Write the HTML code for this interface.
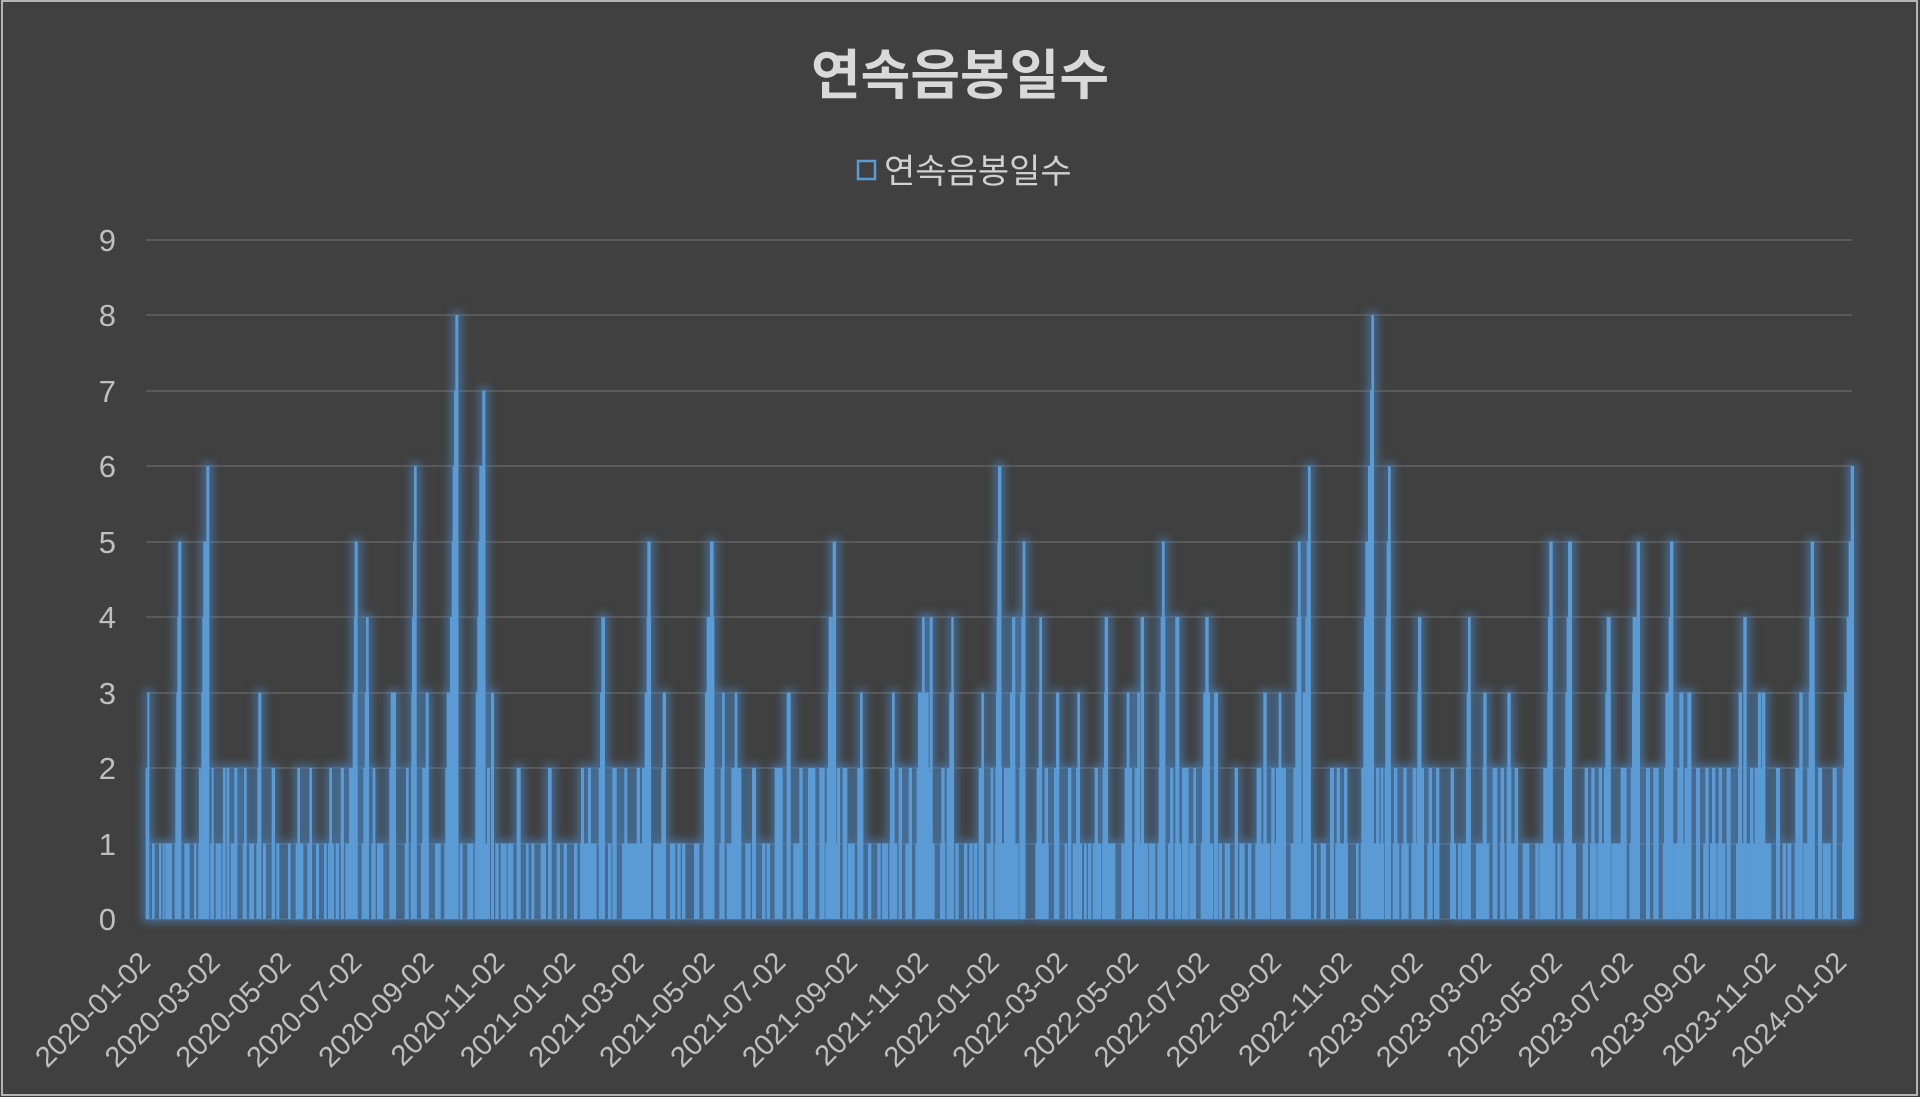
<!DOCTYPE html>
<html>
<head>
<meta charset="utf-8">
<style>
html,body{margin:0;padding:0;background:#404040;}
svg{display:block;}
</style>
</head>
<body>
<svg width="1920" height="1097" viewBox="0 0 1920 1097" xmlns="http://www.w3.org/2000/svg" xmlns:xlink="http://www.w3.org/1999/xlink">
<defs>
<filter id="glow" filterUnits="userSpaceOnUse" x="100" y="200" width="1800" height="760">
  <feMorphology in="SourceAlpha" operator="dilate" radius="3.5" result="d"/>
  <feGaussianBlur in="d" stdDeviation="4.5" result="b"/>
  <feFlood flood-color="#4a88c6" flood-opacity="0.62" result="c"/>
  <feComposite in="c" in2="b" operator="in"/>
</filter>
<g id="bars" fill="#5b9bd5">
<g transform="translate(144 919) scale(0.333333 -75.5)">
<rect x="5" width="5" height="2"/><rect x="10" width="6" height="3"/><rect x="24" width="8" height="1"/><rect x="45" width="7" height="1"/><rect x="56" width="6" height="1"/><rect x="64" width="20" height="1"/>
<rect x="92" width="5" height="1"/><rect x="94" width="6" height="2"/><rect x="97" width="6" height="3"/><rect x="100" width="6" height="4"/><rect x="103" width="9" height="5"/>
<rect x="121" width="16" height="1"/><rect x="150" width="7" height="1"/>
<rect x="163" width="9" height="1"/><rect x="165" width="7" height="2"/><rect x="172" width="5" height="3"/><rect x="175" width="5" height="4"/><rect x="178" width="12" height="5"/><rect x="187" width="9" height="6"/>
<rect x="199" width="11" height="1"/><rect x="203" width="6" height="2"/><rect x="215" width="17" height="1"/><rect x="235" width="10" height="1"/><rect x="237" width="8" height="2"/><rect x="248" width="8" height="2"/>
<rect x="260" width="20" height="1"/><rect x="271" width="9" height="2"/><rect x="296" width="12" height="1"/><rect x="300" width="8" height="2"/><rect x="316" width="14" height="1"/>
<rect x="337" width="15" height="1"/><rect x="340" width="6" height="2"/><rect x="343" width="9" height="3"/><rect x="357" width="9" height="1"/><rect x="383" width="10" height="2"/><rect x="397" width="9" height="1"/>
<rect x="432" width="8" height="1"/><rect x="455" width="23" height="1"/><rect x="460" width="8" height="2"/><rect x="490" width="14" height="1"/><rect x="496" width="8" height="2"/><rect x="516" width="9" height="1"/>
<rect x="540" width="8" height="1"/><rect x="552" width="18" height="1"/><rect x="556" width="8" height="2"/><rect x="575" width="10" height="1"/><rect x="590" width="10" height="2"/>
<rect x="604" width="37" height="1"/><rect x="615" width="13" height="2"/><rect x="626" width="6" height="3"/><rect x="630" width="6" height="4"/><rect x="632" width="9" height="5"/>
<rect x="653" width="22" height="1"/><rect x="658" width="17" height="2"/><rect x="662" width="13" height="3"/><rect x="666" width="8" height="4"/>
<rect x="682" width="13" height="1"/><rect x="686" width="8" height="2"/><rect x="699" width="19" height="1"/><rect x="736" width="14" height="2"/><rect x="740" width="10" height="3"/>
</g>
<g transform="translate(390 919) scale(0.333333 -75.5)">
<rect x="0" width="18" height="1"/><rect x="0" width="10" height="2"/><rect x="10" width="8" height="3"/>
<rect x="44" width="12" height="1"/><rect x="48" width="8" height="2"/>
<rect x="62" width="18" height="1"/><rect x="63" width="17" height="2"/><rect x="64" width="14" height="3"/><rect x="66" width="10" height="4"/><rect x="69" width="7" height="5"/><rect x="72" width="8" height="6"/>
<rect x="93" width="23" height="1"/><rect x="97" width="19" height="2"/><rect x="107" width="9" height="3"/><rect x="135" width="17" height="1"/>
<rect x="163" width="42" height="1"/><rect x="166" width="39" height="2"/><rect x="170" width="35" height="3"/><rect x="180" width="25" height="4"/><rect x="185" width="20" height="5"/><rect x="188" width="17" height="6"/><rect x="192" width="13" height="7"/><rect x="196" width="9" height="8"/>
<rect x="209" width="9" height="1"/><rect x="232" width="18" height="1"/>
<rect x="254" width="46" height="1"/><rect x="256" width="30" height="2"/><rect x="257" width="29" height="3"/><rect x="262" width="24" height="4"/><rect x="265" width="21" height="5"/><rect x="268" width="18" height="6"/><rect x="277" width="9" height="7"/>
<rect x="291" width="9" height="2"/><rect x="303" width="9" height="3"/>
<rect x="316" width="10" height="1"/><rect x="332" width="18" height="1"/><rect x="353" width="17" height="1"/><rect x="380" width="12" height="2"/>
<rect x="408" width="8" height="1"/><rect x="424" width="9" height="1"/><rect x="452" width="16" height="1"/><rect x="474" width="11" height="2"/>
<rect x="500" width="10" height="1"/><rect x="521" width="10" height="1"/><rect x="552" width="10" height="1"/>
<rect x="570" width="50" height="1"/><rect x="573" width="9" height="2"/><rect x="594" width="9" height="2"/>
<rect x="626" width="19" height="2"/><rect x="630" width="15" height="3"/><rect x="634" width="11" height="4"/>
<rect x="654" width="10" height="1"/><rect x="667" width="13" height="2"/><rect x="696" width="44" height="1"/><rect x="703" width="9" height="2"/><rect x="740" width="10" height="2"/>
</g>
<g transform="translate(636 919) scale(0.333333 -75.5)">
<rect x="0" width="6" height="1"/>
<rect x="12" width="33" height="1"/><rect x="18" width="27" height="2"/><rect x="26" width="19" height="3"/><rect x="32" width="13" height="4"/><rect x="34" width="10" height="5"/>
<rect x="52" width="38" height="1"/><rect x="76" width="14" height="2"/><rect x="80" width="10" height="3"/>
<rect x="102" width="16" height="1"/><rect x="124" width="10" height="1"/><rect x="138" width="10" height="1"/><rect x="174" width="16" height="1"/>
<rect x="202" width="33" height="1"/><rect x="204" width="31" height="2"/><rect x="207" width="28" height="3"/><rect x="212" width="23" height="4"/><rect x="222" width="11" height="5"/>
<rect x="250" width="14" height="1"/><rect x="254" width="10" height="2"/><rect x="258" width="8" height="3"/>
<rect x="272" width="44" height="1"/><rect x="286" width="30" height="2"/><rect x="296" width="8" height="3"/>
<rect x="328" width="16" height="1"/><rect x="348" width="12" height="2"/><rect x="378" width="10" height="1"/><rect x="392" width="10" height="1"/>
<rect x="416" width="24" height="2"/><rect x="452" width="12" height="3"/><rect x="472" width="28" height="1"/><rect x="490" width="10" height="2"/>
<rect x="516" width="22" height="2"/><rect x="550" width="16" height="2"/>
<rect x="568" width="44" height="1"/><rect x="572" width="18" height="2"/><rect x="576" width="14" height="3"/><rect x="578" width="12" height="4"/><rect x="590" width="10" height="5"/><rect x="602" width="10" height="2"/>
<rect x="620" width="14" height="2"/><rect x="636" width="20" height="1"/><rect x="664" width="18" height="2"/><rect x="672" width="8" height="3"/>
<rect x="696" width="10" height="1"/><rect x="724" width="10" height="1"/><rect x="738" width="12" height="1"/>
</g>
<g transform="translate(882 919) scale(0.333333 -75.5)">
<rect x="0" width="18" height="1"/><rect x="22" width="24" height="1"/><rect x="24" width="8" height="2"/><rect x="30" width="8" height="3"/>
<rect x="50" width="10" height="2"/><rect x="70" width="20" height="1"/><rect x="80" width="10" height="2"/>
<rect x="100" width="58" height="1"/><rect x="104" width="46" height="2"/><rect x="108" width="32" height="3"/><rect x="120" width="8" height="4"/><rect x="143" width="9" height="4"/>
<rect x="174" width="16" height="1"/><rect x="178" width="10" height="2"/>
<rect x="194" width="22" height="2"/><rect x="202" width="14" height="3"/><rect x="208" width="7" height="4"/>
<rect x="220" width="10" height="1"/><rect x="246" width="10" height="1"/><rect x="262" width="10" height="1"/><rect x="275" width="11" height="1"/>
<rect x="290" width="16" height="2"/><rect x="298" width="8" height="3"/><rect x="314" width="20" height="1"/><rect x="326" width="8" height="2"/>
<rect x="338" width="72" height="1"/><rect x="340" width="20" height="2"/><rect x="342" width="16" height="3"/><rect x="344" width="14" height="4"/><rect x="346" width="10" height="5"/><rect x="348" width="10" height="6"/>
<rect x="366" width="34" height="2"/><rect x="384" width="8" height="3"/><rect x="390" width="10" height="4"/>
<rect x="412" width="18" height="2"/><rect x="414" width="16" height="3"/><rect x="418" width="12" height="4"/><rect x="422" width="8" height="5"/>
<rect x="460" width="40" height="1"/><rect x="464" width="16" height="2"/><rect x="470" width="10" height="3"/><rect x="472" width="8" height="4"/><rect x="488" width="10" height="2"/>
<rect x="516" width="14" height="2"/><rect x="522" width="10" height="3"/><rect x="548" width="8" height="1"/><rect x="558" width="10" height="2"/>
<rect x="572" width="28" height="1"/><rect x="582" width="12" height="2"/><rect x="586" width="8" height="3"/>
<rect x="606" width="8" height="1"/><rect x="618" width="10" height="1"/><rect x="632" width="26" height="1"/><rect x="638" width="10" height="2"/>
<rect x="660" width="40" height="1"/><rect x="662" width="16" height="2"/><rect x="666" width="10" height="3"/><rect x="668" width="10" height="4"/>
<rect x="718" width="10" height="1"/><rect x="728" width="22" height="2"/><rect x="734" width="8" height="3"/>
</g>
<g transform="translate(1128 919) scale(0.333333 -75.5)">
<rect x="0" width="10" height="1"/><rect x="0" width="4" height="3"/>
<rect x="18" width="42" height="1"/><rect x="20" width="10" height="2"/><rect x="28" width="8" height="3"/><rect x="38" width="10" height="4"/>
<rect x="62" width="20" height="1"/>
<rect x="88" width="24" height="1"/><rect x="92" width="20" height="2"/><rect x="94" width="18" height="3"/><rect x="98" width="14" height="4"/><rect x="102" width="8" height="5"/>
<rect x="120" width="16" height="1"/><rect x="126" width="10" height="2"/><rect x="140" width="20" height="1"/><rect x="142" width="12" height="4"/>
<rect x="162" width="20" height="2"/><rect x="184" width="20" height="1"/><rect x="196" width="8" height="2"/>
<rect x="218" width="38" height="1"/><rect x="222" width="24" height="2"/><rect x="226" width="20" height="3"/><rect x="232" width="10" height="4"/>
<rect x="258" width="12" height="3"/><rect x="272" width="10" height="1"/><rect x="290" width="16" height="1"/><rect x="320" width="10" height="2"/><rect x="334" width="16" height="1"/><rect x="360" width="10" height="1"/>
<rect x="382" width="44" height="1"/><rect x="386" width="14" height="2"/><rect x="406" width="10" height="3"/>
<rect x="428" width="46" height="1"/><rect x="430" width="10" height="2"/><rect x="444" width="30" height="2"/><rect x="452" width="8" height="3"/>
<rect x="488" width="60" height="1"/><rect x="496" width="24" height="2"/><rect x="502" width="18" height="3"/><rect x="506" width="14" height="4"/><rect x="510" width="8" height="5"/>
<rect x="524" width="24" height="3"/><rect x="532" width="16" height="4"/><rect x="536" width="12" height="5"/><rect x="540" width="8" height="6"/>
<rect x="558" width="8" height="1"/><rect x="578" width="16" height="1"/><rect x="606" width="12" height="2"/>
<rect x="622" width="38" height="1"/><rect x="626" width="10" height="2"/><rect x="648" width="10" height="2"/><rect x="684" width="8" height="1"/>
<rect x="698" width="52" height="1"/><rect x="700" width="38" height="2"/><rect x="706" width="32" height="3"/><rect x="708" width="30" height="4"/><rect x="712" width="26" height="5"/><rect x="720" width="18" height="6"/><rect x="726" width="12" height="7"/><rect x="730" width="8" height="8"/><rect x="744" width="6" height="2"/>
</g>
<g transform="translate(1374 919) scale(0.333333 -75.5)">
<rect x="0" width="30" height="1"/><rect x="8" width="8" height="2"/><rect x="20" width="8" height="2"/>
<rect x="32" width="18" height="2"/><rect x="34" width="16" height="3"/><rect x="35" width="15" height="4"/><rect x="38" width="12" height="5"/><rect x="42" width="8" height="6"/>
<rect x="56" width="20" height="1"/><rect x="60" width="10" height="2"/><rect x="82" width="22" height="1"/><rect x="88" width="10" height="2"/>
<rect x="112" width="38" height="1"/><rect x="116" width="10" height="2"/><rect x="128" width="22" height="2"/><rect x="130" width="12" height="3"/><rect x="132" width="10" height="4"/>
<rect x="160" width="16" height="1"/><rect x="164" width="10" height="2"/><rect x="180" width="16" height="1"/><rect x="186" width="10" height="2"/>
<rect x="228" width="18" height="1"/><rect x="230" width="10" height="2"/><rect x="252" width="10" height="1"/>
<rect x="264" width="26" height="1"/><rect x="276" width="14" height="2"/><rect x="278" width="12" height="3"/><rect x="282" width="8" height="4"/>
<rect x="306" width="40" height="1"/><rect x="326" width="12" height="2"/><rect x="328" width="10" height="3"/>
<rect x="356" width="14" height="2"/><rect x="378" width="14" height="1"/><rect x="380" width="10" height="2"/>
<rect x="398" width="34" height="1"/><rect x="398" width="14" height="2"/><rect x="400" width="10" height="3"/><rect x="422" width="10" height="2"/>
<rect x="446" width="20" height="1"/><rect x="484" width="10" height="1"/>
<rect x="496" width="48" height="1"/><rect x="508" width="12" height="2"/><rect x="520" width="16" height="3"/><rect x="522" width="14" height="4"/><rect x="526" width="10" height="5"/>
<rect x="550" width="10" height="1"/>
<rect x="568" width="38" height="1"/><rect x="570" width="24" height="2"/><rect x="574" width="20" height="3"/><rect x="578" width="16" height="4"/><rect x="582" width="12" height="5"/>
<rect x="626" width="14" height="1"/><rect x="632" width="10" height="2"/><rect x="648" width="20" height="1"/><rect x="652" width="10" height="2"/>
<rect x="670" width="20" height="1"/><rect x="674" width="10" height="2"/>
<rect x="690" width="20" height="2"/><rect x="694" width="16" height="3"/><rect x="698" width="12" height="4"/>
<rect x="712" width="28" height="1"/><rect x="740" width="10" height="2"/>
</g>
<g transform="translate(1620 919) scale(0.333333 -75.5)">
<rect x="0" width="6" height="1"/><rect x="8" width="12" height="2"/>
<rect x="28" width="32" height="1"/><rect x="32" width="28" height="2"/><rect x="36" width="24" height="3"/><rect x="38" width="12" height="4"/><rect x="50" width="10" height="5"/>
<rect x="78" width="12" height="2"/><rect x="100" width="16" height="2"/>
<rect x="128" width="20" height="1"/><rect x="132" width="16" height="2"/><rect x="136" width="12" height="3"/><rect x="146" width="4" height="4"/><rect x="150" width="10" height="5"/>
<rect x="160" width="54" height="1"/><rect x="172" width="18" height="2"/><rect x="178" width="12" height="3"/><rect x="194" width="20" height="2"/><rect x="202" width="12" height="3"/>
<rect x="228" width="12" height="2"/><rect x="250" width="14" height="1"/><rect x="256" width="10" height="2"/>
<rect x="270" width="20" height="1"/><rect x="276" width="10" height="2"/><rect x="292" width="24" height="1"/><rect x="296" width="10" height="2"/><rect x="320" width="12" height="2"/>
<rect x="348" width="32" height="1"/><rect x="354" width="12" height="2"/><rect x="356" width="10" height="3"/><rect x="370" width="10" height="4"/>
<rect x="380" width="74" height="1"/><rect x="390" width="10" height="2"/><rect x="404" width="30" height="2"/><rect x="414" width="10" height="3"/><rect x="426" width="10" height="3"/>
<rect x="468" width="12" height="2"/><rect x="488" width="10" height="1"/><rect x="502" width="12" height="1"/>
<rect x="524" width="24" height="1"/><rect x="526" width="12" height="2"/><rect x="538" width="10" height="3"/>
<rect x="550" width="34" height="1"/><rect x="562" width="22" height="2"/><rect x="566" width="18" height="3"/><rect x="568" width="16" height="4"/><rect x="572" width="10" height="5"/>
<rect x="594" width="12" height="2"/><rect x="608" width="24" height="1"/><rect x="638" width="12" height="2"/>
<rect x="666" width="36" height="1"/><rect x="668" width="34" height="2"/><rect x="672" width="30" height="3"/><rect x="680" width="22" height="4"/><rect x="686" width="16" height="5"/><rect x="692" width="10" height="6"/>
</g>
</g>
</defs>

<rect x="0" y="0" width="1920" height="1097" fill="#404040"/>
<rect x="2" y="1" width="1915" height="1094" fill="none" stroke="#c4c4c4" stroke-width="1.75"/>

<g stroke="#595959" stroke-width="2">
<line x1="146" y1="240" x2="1852" y2="240"/>
<line x1="146" y1="315" x2="1852" y2="315"/>
<line x1="146" y1="391" x2="1852" y2="391"/>
<line x1="146" y1="466" x2="1852" y2="466"/>
<line x1="146" y1="542" x2="1852" y2="542"/>
<line x1="146" y1="617" x2="1852" y2="617"/>
<line x1="146" y1="693" x2="1852" y2="693"/>
<line x1="146" y1="768" x2="1852" y2="768"/>
<line x1="146" y1="844" x2="1852" y2="844"/>
<line x1="146" y1="919" x2="1852" y2="919"/>
</g>

<use xlink:href="#bars" href="#bars" filter="url(#glow)"/>
<use xlink:href="#bars" href="#bars"/>

<text x="960" y="94" text-anchor="middle" font-family="'Liberation Sans','Noto Sans CJK KR',sans-serif" font-size="54" font-weight="bold" fill="#d9d9d9">연속음봉일수</text>

<rect x="858" y="161" width="17" height="18" fill="none" stroke="#5b9bd5" stroke-width="2.5"/>
<text x="884" y="183" font-family="'Liberation Sans','Noto Sans CJK KR',sans-serif" font-size="34" fill="#d0d0d0">연속음봉일수</text>

<g font-family="'Liberation Sans',sans-serif" font-size="31" fill="#bfbfbf" text-anchor="end">
<text x="116" y="251">9</text>
<text x="116" y="326">8</text>
<text x="116" y="402">7</text>
<text x="116" y="477">6</text>
<text x="116" y="553">5</text>
<text x="116" y="628">4</text>
<text x="116" y="704">3</text>
<text x="116" y="779">2</text>
<text x="116" y="855">1</text>
<text x="116" y="930">0</text>
</g>

<g font-family="'Liberation Sans',sans-serif" font-size="29" fill="#bfbfbf" text-anchor="end">
<text transform="translate(152 964) rotate(-45)">2020-01-02</text>
<text transform="translate(221.7 964) rotate(-45)">2020-03-02</text>
<text transform="translate(292.5 964) rotate(-45)">2020-05-02</text>
<text transform="translate(363.3 964) rotate(-45)">2020-07-02</text>
<text transform="translate(435.3 964) rotate(-45)">2020-09-02</text>
<text transform="translate(506.1 964) rotate(-45)">2020-11-02</text>
<text transform="translate(576.9 964) rotate(-45)">2021-01-02</text>
<text transform="translate(645.4 964) rotate(-45)">2021-03-02</text>
<text transform="translate(716.2 964) rotate(-45)">2021-05-02</text>
<text transform="translate(787.1 964) rotate(-45)">2021-07-02</text>
<text transform="translate(859 964) rotate(-45)">2021-09-02</text>
<text transform="translate(929.9 964) rotate(-45)">2021-11-02</text>
<text transform="translate(1000.7 964) rotate(-45)">2022-01-02</text>
<text transform="translate(1069.2 964) rotate(-45)">2022-03-02</text>
<text transform="translate(1140 964) rotate(-45)">2022-05-02</text>
<text transform="translate(1210.8 964) rotate(-45)">2022-07-02</text>
<text transform="translate(1282.8 964) rotate(-45)">2022-09-02</text>
<text transform="translate(1353.6 964) rotate(-45)">2022-11-02</text>
<text transform="translate(1424.5 964) rotate(-45)">2023-01-02</text>
<text transform="translate(1493 964) rotate(-45)">2023-03-02</text>
<text transform="translate(1563.8 964) rotate(-45)">2023-05-02</text>
<text transform="translate(1634.6 964) rotate(-45)">2023-07-02</text>
<text transform="translate(1706.6 964) rotate(-45)">2023-09-02</text>
<text transform="translate(1777.4 964) rotate(-45)">2023-11-02</text>
<text transform="translate(1848.2 964) rotate(-45)">2024-01-02</text>
</g>
</svg>
</body>
</html>
